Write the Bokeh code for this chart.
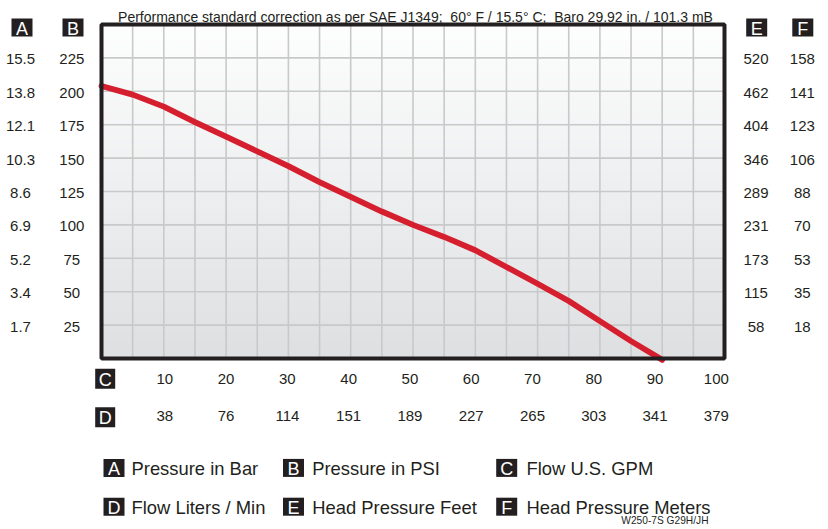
import numpy as np
from bokeh.plotting import figure
from bokeh.models import Range1d, ColumnDataSource
from bokeh.core.properties import value
from bokeh.embed import file_html
from bokeh.resources import INLINE

# ---------------- data ----------------
flow_gpm = [0, 5, 10, 15, 20, 25, 30, 35, 40, 45, 50, 55, 60, 65, 70, 75, 80, 85, 90]
pressure_psi = [204, 197.5, 188.5, 177, 166, 155, 144, 132, 121, 110, 100, 91, 81, 68.5, 56, 43, 28, 13, -1]

psi_ticks = [25, 50, 75, 100, 125, 150, 175, 200, 225]
psi_labels = ["25", "50", "75", "100", "125", "150", "175", "200", "225"]
bar_labels = ["1.7", "3.4", "5.2", "6.9", "8.6", "10.3", "12.1", "13.8", "15.5"]
feet_labels = ["58", "115", "173", "231", "289", "346", "404", "462", "520"]
meter_labels = ["18", "35", "53", "70", "88", "106", "123", "141", "158"]

gpm_ticks = [10, 20, 30, 40, 50, 60, 70, 80, 90, 100]
gpm_labels = ["10", "20", "30", "40", "50", "60", "70", "80", "90", "100"]
lpm_labels = ["38", "76", "114", "151", "189", "227", "265", "303", "341", "379"]

grid_gpm = [5, 10, 15, 20, 25, 30, 35, 40, 45, 50, 55, 60, 65, 70, 75, 80, 85, 90, 95]
gpm_limits = (0, 100)
psi_limits = (0, 250)

title_text = ("Performance standard correction as per SAE J1349;\u00a0 60\u00b0 F / 15.5\u00b0 C;"
              "\u00a0 Baro 29.92 in. / 101.3 mB")
legend_letters = ["A", "B", "C", "D", "E", "F"]
legend_names = ["Pressure in Bar", "Pressure in PSI", "Flow U.S. GPM",
                "Flow Liters / Min", "Head Pressure Feet", "Head Pressure Meters"]
code_text = "W250-7S G29H/JH"

# ---------------- layout (figure pixels) ----------------
W, H = 824, 527
FL, FR, FT, FB = 101, 724, 24, 358          # chart box in figure pixels
FONT = "Liberation Sans"
INK = "#231f20"
RED = "#d61f2e"
GRID = "#c8c9ca"

sx = (FR - FL) / (gpm_limits[1] - gpm_limits[0])
sy = (FB - FT) / (psi_limits[1] - psi_limits[0])


def gx(px):  # figure pixel -> flow units
    return gpm_limits[0] + (px - FL) / sx


def gy(py):  # figure pixel -> psi units
    return psi_limits[0] + (FB - py) / sy


p = figure(width=W, height=H,
           x_range=Range1d(gx(0), gx(W)), y_range=Range1d(gy(H), gy(0)),
           x_axis_location=None, y_axis_location=None,
           output_backend="svg", toolbar_location=None,
           min_border=0, min_border_left=0, min_border_right=0,
           min_border_top=0, min_border_bottom=0)
p.outline_line_color = None
p.background_fill_color = "white"
p.border_fill_color = "white"
p.xgrid.visible = False
p.ygrid.visible = False

# tick-label positions of the flow scales (as spaced on the original sheet)
L10, L100 = 164.3, 715.8
k = (L100 - L10) / 90.0
p.extra_x_ranges = {"flow_labels": Range1d(10 - L10 / k, 10 + (W - L10) / k)}

# ---- background gradient of the chart box ----
n = 64
t = np.linspace(0, 1, n)
top = np.array([254, 254, 254]); bot = np.array([222, 224, 226])
cols = (bot[None, :] + (top - bot)[None, :] * t[:, None]).astype(np.uint8)
img = np.empty((n, 1), dtype=np.uint32)
v = img.view(dtype=np.uint8).reshape((n, 1, 4))
v[:, 0, 0] = cols[:, 0]; v[:, 0, 1] = cols[:, 1]; v[:, 0, 2] = cols[:, 2]; v[:, 0, 3] = 255
p.image_rgba(image=[img], x=gpm_limits[0], y=psi_limits[0],
             dw=gpm_limits[1] - gpm_limits[0], dh=psi_limits[1] - psi_limits[0], level="image")

# ---- grid lines ----
p.segment(x0=grid_gpm, y0=[psi_limits[0]] * len(grid_gpm), x1=grid_gpm, y1=[psi_limits[1]] * len(grid_gpm),
          line_color=GRID, line_width=1.6)
p.segment(x0=[gpm_limits[0]] * len(psi_ticks), y0=psi_ticks, x1=[gpm_limits[1]] * len(psi_ticks), y1=psi_ticks,
          line_color=GRID, line_width=1.6)

# ---- performance curve ----
p.line(flow_gpm, pressure_psi, line_color=RED, line_width=5.8, line_cap="round", line_join="round")

# ---- chart border ----
p.quad(left=gpm_limits[0], right=gpm_limits[1], bottom=psi_limits[0], top=psi_limits[1],
       fill_color=None, line_color=INK, line_width=4)


def texts(xs, ys, labels, size, align="center", baseline="middle", color=INK, **kw):
    src = ColumnDataSource(dict(x=xs, y=ys, text=labels))
    p.text(x="x", y="y", text="text", source=src, text_font=value(FONT),
           text_font_size=value(size), text_color=color, text_align=align,
           text_baseline=baseline, **kw)


def boxes(xs, ys, letters, w, h, size="18px"):
    p.rect(x=xs, y=ys, width=w, height=h, width_units="screen", height_units="screen",
           fill_color=INK, line_color=None)
    texts(xs, ys, letters, size, color="white", y_offset=1)


# ---- scale labels (left: bar / psi, right: feet / meters, bottom: GPM / LPM) ----
nt = len(psi_ticks)
texts([gx(20)] * nt, psi_ticks, bar_labels, "15px", y_offset=1.5)
texts([gx(71.3)] * nt, psi_ticks, psi_labels, "15px", y_offset=1.5)
texts([gx(755.5)] * nt, psi_ticks, feet_labels, "15px", y_offset=1.5)
texts([gx(801.8)] * nt, psi_ticks, meter_labels, "15px", y_offset=1.5)
ng = len(gpm_ticks)
texts(gpm_ticks, [gy(378.3)] * ng, gpm_labels, "15px", x_range_name="flow_labels")
texts(gpm_ticks, [gy(415)] * ng, lpm_labels, "15px", x_range_name="flow_labels")

# ---- scale letters ----
boxes([gx(21.5), gx(72.5), gx(756.2), gx(802.3)], [gy(27)] * 4, ["A", "B", "E", "F"], 21, 18)
boxes([gx(104.7), gx(104.7)], [gy(378.3), gy(416.7)], ["C", "D"], 20, 20)

# ---- title ----
texts([gx(415)], [gy(16)], [title_text], "14px", baseline="alphabetic")

# ---- legend ----
col_box = [113.5, 293, 506.2]
col_txt = [131, 311.7, 526]
row_y = [467.4, 506.2]
lx, ly, tx = [], [], []
for i in range(len(legend_letters)):
    r, c = divmod(i, 3)
    lx.append(gx(col_box[c])); ly.append(gy(row_y[r])); tx.append(gx(col_txt[c]))
boxes(lx, ly, legend_letters, 21, 18)
texts(tx, ly, legend_names, "18.4px", align="left", y_offset=1)

texts([gx(708)], [gy(520)], [code_text], "10.2px", align="right")

open("out.html", "w").write(file_html(p, INLINE))
